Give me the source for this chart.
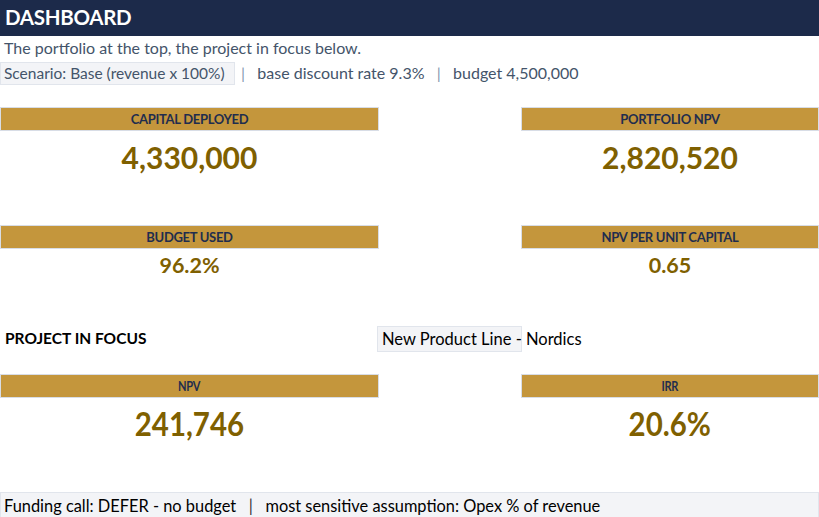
<!DOCTYPE html>
<html>
<head>
<meta charset="utf-8">
<script src="https://cdn.jsdelivr.net/npm/chart.js@4"></script>
<style>
  body { margin: 0; width: 819px; height: 517px; background: #fff; font-family: Lato, "Open Sans", sans-serif; position: relative; overflow: hidden; }
  .abs { position: absolute; white-space: nowrap; }
  #top { left: 0; top: 0; width: 819px; height: 36px; background: #1c2a4a; }
  #title { left: 5px; top: 5px; color: #fff; font-weight: bold; font-size: 20.5px; letter-spacing: -0.3px; }
  .sub { color: #44546a; font-size: 16px; }
  .box { background: #f3f4f7; border: 1px solid #e1e5ec; box-sizing: border-box; }
  .head { background: #c4963c; border: 1px solid #d8dde6; box-sizing: border-box; height: 24px; color: #1f2d4e; font-weight: bold; font-size: 13px; text-align: center; line-height: 22px; letter-spacing: -0.3px; }
  .val { color: #7f6000; font-weight: bold; text-align: center; }
  .cond { transform: scaleX(0.91); transform-origin: left center; }
  .sq { display: inline-block; }
  .pipe { color: #8497b0; }
  .pipe.dark { color: #333; }
</style>
</head>
<body>
<div id="top" class="abs"></div>
<div id="title" class="abs">DASHBOARD</div>
<div id="wrap"></div>
<script>
// portfolio numbers
const subtitle = "The portfolio at the top, the project in focus below.";
const scenario = "Scenario: Base (revenue x 100%)";
const scenarioInfo = ["base discount rate 9.3%", "budget 4,500,000"];
const kpiLabels = ["CAPITAL DEPLOYED", "PORTFOLIO NPV", "BUDGET USED", "NPV PER UNIT CAPITAL"];
const kpiValues = ["4,330,000", "2,820,520", "96.2%", "0.65"];
// project in focus
const focusProject = "New Product Line - Nordics";
const projectLabels = ["NPV", "IRR"];
const projectValues = ["241,746", "20.6%"];
const footer = ["Funding call: DEFER - no budget", "most sensitive assumption: Opex % of revenue"];

const wrap = document.querySelector('#wrap');
function add(cls, css, html) {
  const d = document.createElement('div');
  d.className = 'abs ' + cls;
  d.style.cssText = css;
  d.innerHTML = html;
  wrap.appendChild(d);
  return d;
}
const pad = '&nbsp;&nbsp;&nbsp;';
const sep = pad + '<span class="pipe">|</span>' + pad;

add('sub', 'left:4px;top:38px;', subtitle);
add('sub box', 'left:0;top:62px;width:235px;height:23px;padding-left:3px;line-height:21px;font-size:15.5px;', scenario);
add('sub', 'left:241px;top:62px;line-height:21px;', '<span class="pipe">|</span>' + pad + scenarioInfo[0] + sep + scenarioInfo[1]);

const cols = [[0, 379], [521, 298]];
const rows = [[107, 30, 139], [225, 21.5, 252]];
kpiLabels.forEach((lab, i) => {
  const c = cols[i % 2], r = rows[Math.floor(i / 2)];
  add('head', `left:${c[0]}px;top:${r[0]}px;width:${c[1]}px;`, lab);
  add('val', `left:${c[0]}px;top:${r[2]}px;width:${c[1]}px;font-size:${r[1]}px;`, kpiValues[i]);
});

add('', 'left:5px;top:329px;font-weight:bold;font-size:15.5px;color:#000;', 'PROJECT IN FOCUS');
add('box', 'left:377px;top:326px;width:145px;height:26px;', '');
add('', 'left:382px;top:329px;font-size:16.5px;color:#000;', focusProject);

projectLabels.forEach((lab, i) => {
  const c = cols[i];
  add('head', `left:${c[0]}px;top:374px;width:${c[1]}px;`, '<span class="sq" style="transform:scaleX(0.85)">' + lab + '</span>');
  add('val', `left:${c[0]}px;top:404px;width:${c[1]}px;font-size:32px;`, '<span class="sq" style="transform:scaleX(0.92)">' + projectValues[i] + '</span>');
});

add('box', 'left:0;top:492px;width:819px;height:26px;', '');
add('cond', 'left:4px;top:494px;font-size:18px;color:#000;', footer[0] + pad + '<span class="pipe dark">|</span>' + pad + footer[1]);
</script>
</body>
</html>
